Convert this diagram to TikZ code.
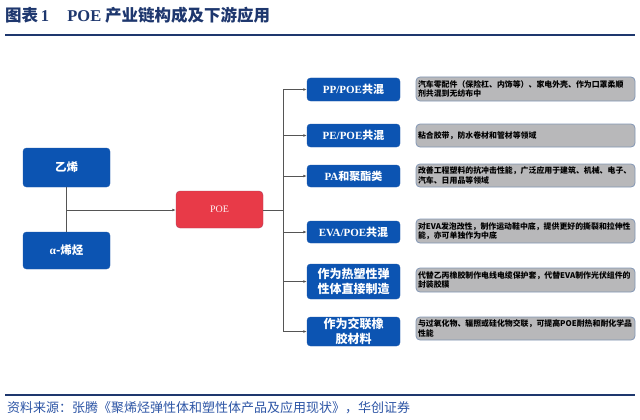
\documentclass[tikz,border=0pt]{standalone}
\usepackage{fontspec}
\setmainfont{Noto Sans CJK SC}
\newfontfamily\lat{Liberation Serif}
\usetikzlibrary{arrows.meta}
\definecolor{bbl}{RGB}{12,84,178}
\definecolor{bbd}{RGB}{30,90,170}
\definecolor{pred}{RGB}{232,58,72}
\definecolor{pdark}{RGB}{170,60,90}
\definecolor{gfill}{RGB}{184,184,186}
\definecolor{gdraw}{RGB}{130,150,180}
\definecolor{lgray}{RGB}{85,85,85}
\definecolor{navy}{RGB}{30,55,110}
\definecolor{foot}{RGB}{45,85,165}
\tikzset{
  bluebox/.style={fill=bbl, draw=bbd, rounded corners=3.5pt, text=white, align=center, inner sep=0pt,
    font=\bfseries\fontsize{11}{13}\selectfont},
  bluetwo/.style={bluebox, font=\bfseries\fontsize{12}{15}\selectfont},
  redbox/.style={fill=pred, draw=pdark, rounded corners=4pt, text={white!92!pred}, inner sep=0pt,
    font=\fontsize{10}{11}\selectfont},
  graybox/.style={fill=gfill, draw=gdraw, line width=0.8pt, rounded corners=4pt, align=left,
    text width=215pt, inner xsep=2pt, inner ysep=0pt, minimum width=219pt,
    font=\bfseries\fontsize{7.9}{9.5}\selectfont},
  conn/.style={draw=lgray, line width=0.7pt},
  arr/.style={conn, -{Latex[length=3.5pt,width=2.8pt]}}
}
\begin{document}
\begin{tikzpicture}[x=1pt,y=-1pt]
\useasboundingbox (0,0) rectangle (640,420);
% title
\node[anchor=west, text=navy, font=\bfseries\fontsize{16.5}{18}\selectfont, inner sep=0pt] (title) at (5,15)
  {图表\,{\lat 1}\hspace{1.1em}{\lat POE} 产业链构成及下游应用};
\draw[navy, line width=1.1pt] (5,35) -- (635,35);

% left nodes
\node[bluebox, font=\bfseries\fontsize{11.5}{13}\selectfont, minimum width=87pt, minimum height=39pt] (eth) at (66.5,167.5) {乙烯};
\node[bluebox, font=\bfseries\fontsize{11.5}{13}\selectfont, minimum width=87pt, minimum height=37pt] (ao) at (66.5,250.5) {{\lat α}-烯烃};
\node[redbox, minimum width=87pt, minimum height=37pt] (poe) at (219.5,209.5) {\lat POE};

\coordinate (j) at (66.5,210);
\draw[conn] (eth.south) -- (ao.north);
\draw[arr] (j) -- (poe.west |- j);

% blue application boxes
\node[bluebox, minimum width=93pt, minimum height=23pt] (b1) at (353.5,89.5) {{\lat PP/POE}共混};
\node[bluebox, minimum width=93pt, minimum height=23pt] (b2) at (353.5,135.5) {{\lat PE/POE}共混};
\node[bluebox, minimum width=93pt, minimum height=22pt] (b3) at (353.5,176) {{\lat PA}和聚酯类};
\node[bluebox, minimum width=93pt, minimum height=22pt] (b4) at (353.5,232) {{\lat EVA/POE}共混};
\node[bluetwo, minimum width=93pt, minimum height=35pt] (b5) at (353.5,281.5) {作为热塑性弹\\性体直接制造};
\node[bluetwo, minimum width=93pt, minimum height=29pt] (b6) at (353.5,331.5) {作为交联橡\\胶材料};

% trunk
\coordinate (t) at (283,210);
\draw[conn] (poe.east |- t) -- (t);
\draw[conn] (t |- b1.west) -- (t |- b6.west);
\foreach \b in {b1,b2,b3,b4,b5,b6}{
  \draw[arr] (t |- \b.west) -- (\b.west);
}

% gray description boxes
\node[graybox, minimum height=24pt] (g1) at (525.5,89) {汽车零配件（保险杠、内饰等）、家电外壳、作为口罩柔顺\\剂共混到无纺布中};
\node[graybox, minimum height=23pt] (g2) at (525.5,135.5) {粘合胶带，防水卷材和管材等领域};
\node[graybox, minimum height=23pt] (g3) at (525.5,175.5) {改善工程塑料的抗冲击性能，广泛应用于建筑、机械、电子、\\汽车、日用品等领域};
\node[graybox, minimum height=24pt] (g4) at (525.5,231) {对EVA发泡改性，制作运动鞋中底，提供更好的撕裂和拉伸性\\能，亦可单独作为中底};
\node[graybox, minimum height=24pt] (g5) at (525.5,280) {代替乙丙橡胶制作电线电缆保护套，代替EVA制作光伏组件的\\封装胶膜};
\node[graybox, minimum height=23pt] (g6) at (525.5,328.5) {与过氧化物、辐照或硅化物交联，可提高POE耐热和耐化学品\\性能};

% footer
\draw[navy, line width=1.1pt] (5,395) -- (635,395);
\node[anchor=west, text=foot, font=\fontsize{13}{14}\selectfont, inner sep=0pt] (src) at (7,408)
  {资料来源：张腾《聚烯烃弹性体和塑性体产品及应用现状》，华创证券};
\end{tikzpicture}
\end{document}
